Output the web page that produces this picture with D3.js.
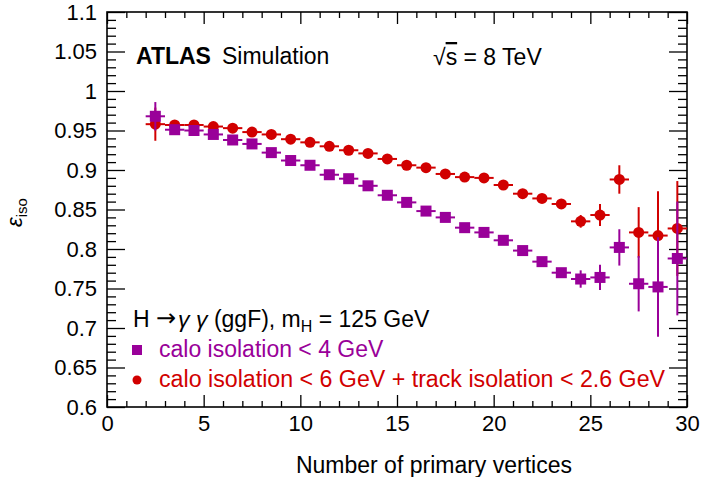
<!DOCTYPE html>
<html>
<head>
<meta charset="utf-8">
<script src="https://cdn.jsdelivr.net/npm/d3@7"></script>
<style>
  body { margin: 0; background: #fff; }
  text { font-family: "Liberation Sans", Arial, sans-serif; }
</style>
</head>
<body>
<div id="chart"></div>
<script>
// bin centres (number of primary vertices)
const nvtx = [2.5, 3.5, 4.5, 5.5, 6.5, 7.5, 8.5, 9.5, 10.5, 11.5, 12.5, 13.5, 14.5, 15.5,
              16.5, 17.5, 18.5, 19.5, 20.5, 21.5, 22.5, 23.5, 24.5, 25.5, 26.5, 27.5, 28.5, 29.5];

// calo isolation < 4 GeV (purple squares)
const caloEff = [0.968, 0.951, 0.950, 0.945, 0.938, 0.933, 0.922, 0.912, 0.906, 0.894, 0.889, 0.880, 0.868, 0.859,
                 0.848, 0.840, 0.827, 0.821, 0.811, 0.798, 0.784, 0.770, 0.762, 0.764, 0.802, 0.756, 0.752, 0.788];
const caloErr = [0.018, 0.005, 0.004, 0.003, 0.003, 0.003, 0.003, 0.003, 0.003, 0.003, 0.003, 0.003, 0.003, 0.003,
                 0.003, 0.003, 0.003, 0.004, 0.004, 0.004, 0.005, 0.006, 0.011, 0.016, 0.023, 0.035, 0.063, 0.072];

// calo isolation < 6 GeV + track isolation < 2.6 GeV (red circles)
const trackEff = [0.958, 0.957, 0.957, 0.955, 0.953, 0.948, 0.945, 0.939, 0.935, 0.930, 0.925, 0.921, 0.914, 0.906,
                  0.903, 0.895, 0.891, 0.890, 0.881, 0.870, 0.864, 0.857, 0.835, 0.843, 0.888, 0.821, 0.817, 0.826];
const trackErr = [0.021, 0.004, 0.003, 0.003, 0.003, 0.003, 0.003, 0.003, 0.003, 0.003, 0.003, 0.003, 0.003, 0.003,
                  0.003, 0.003, 0.004, 0.004, 0.004, 0.004, 0.005, 0.006, 0.008, 0.014, 0.018, 0.032, 0.056, 0.060];

const binHalfWidth = 0.5;

const xTicks = [0, 5, 10, 15, 20, 25, 30];
const yTicks = [0.6, 0.65, 0.7, 0.75, 0.8, 0.85, 0.9, 0.95, 1, 1.05, 1.1];

const purple = '#990099';
const red = '#d10000';

let dimensions = {
    width: 708,
    height: 477,
    margins: { top: 12, bottom: 70, left: 107, right: 21 }
};
const plotW = dimensions.width - dimensions.margins.left - dimensions.margins.right;
const plotH = dimensions.height - dimensions.margins.top - dimensions.margins.bottom;

const svg = d3.select('#chart').append('svg')
    .attr('width', dimensions.width)
    .attr('height', dimensions.height);

const ctr = svg.append('g')
    .attr('transform', `translate(${dimensions.margins.left}, ${dimensions.margins.top})`);

const xScale = d3.scaleLinear().domain([0, 30]).range([0, plotW]);
const yScale = d3.scaleLinear().domain([0.6, 1.1]).range([plotH, 0]);

// minor ticks
const xMinor = d3.range(0, 31, 1).filter(v => v % 5 !== 0);
const yMinor = d3.range(60, 111, 1).filter(v => v % 5 !== 0).map(v => v / 100);

function styleAxis(g) {
    g.select('.domain').remove();
    g.selectAll('.tick line').attr('stroke', '#000').attr('stroke-width', 1.3);
    g.selectAll('text').attr('fill', '#000').style('font-size', '22px');
}

// bottom
ctr.append('g').attr('transform', `translate(0, ${plotH})`)
    .call(d3.axisBottom(xScale).tickValues(xTicks).tickSize(-12).tickPadding(8).tickFormat(d => d))
    .call(styleAxis);
ctr.append('g').attr('transform', `translate(0, ${plotH})`)
    .call(d3.axisBottom(xScale).tickValues(xMinor).tickSize(-6).tickFormat(''))
    .call(styleAxis);
// top
ctr.append('g')
    .call(d3.axisTop(xScale).tickValues(xTicks).tickSize(-12).tickFormat(''))
    .call(styleAxis);
ctr.append('g')
    .call(d3.axisTop(xScale).tickValues(xMinor).tickSize(-6).tickFormat(''))
    .call(styleAxis);
// left
ctr.append('g')
    .call(d3.axisLeft(yScale).tickValues(yTicks).tickSize(-18).tickPadding(10).tickFormat(d => d))
    .call(styleAxis);
ctr.append('g')
    .call(d3.axisLeft(yScale).tickValues(yMinor).tickSize(-9).tickFormat(''))
    .call(styleAxis);
// right
ctr.append('g').attr('transform', `translate(${plotW}, 0)`)
    .call(d3.axisRight(yScale).tickValues(yTicks).tickSize(-18).tickFormat(''))
    .call(styleAxis);
ctr.append('g').attr('transform', `translate(${plotW}, 0)`)
    .call(d3.axisRight(yScale).tickValues(yMinor).tickSize(-9).tickFormat(''))
    .call(styleAxis);

// frame
ctr.append('rect')
    .attr('width', plotW).attr('height', plotH)
    .attr('fill', 'none').attr('stroke', '#000').attr('stroke-width', 1.6);

// series
function drawSeries(eff, err, color, shape) {
    const data = nvtx.map((x, i) => ({ x: x, y: eff[i], e: err[i] }));
    const grp = ctr.append('g');

    grp.selectAll('line.ex')
        .data(data)
        .join('line')
        .attr('x1', d => xScale(d.x - binHalfWidth))
        .attr('x2', d => xScale(d.x + binHalfWidth))
        .attr('y1', d => yScale(d.y))
        .attr('y2', d => yScale(d.y))
        .attr('stroke', color).attr('stroke-width', 2);

    grp.selectAll('line.ey')
        .data(data)
        .join('line')
        .attr('x1', d => xScale(d.x))
        .attr('x2', d => xScale(d.x))
        .attr('y1', d => yScale(d.y - d.e))
        .attr('y2', d => yScale(d.y + d.e))
        .attr('stroke', color).attr('stroke-width', 2);

    if (shape === 'square') {
        grp.selectAll('rect')
            .data(data)
            .join('rect')
            .attr('x', d => xScale(d.x) - 5.5)
            .attr('y', d => yScale(d.y) - 5.5)
            .attr('width', 11).attr('height', 11)
            .attr('fill', color);
    } else {
        grp.selectAll('circle')
            .data(data)
            .join('circle')
            .attr('cx', d => xScale(d.x))
            .attr('cy', d => yScale(d.y))
            .attr('r', 5.5)
            .attr('fill', color);
    }
}

drawSeries(trackEff, trackErr, red, 'circle');
drawSeries(caloEff, caloErr, purple, 'square');

// labels
svg.append('text')
    .attr('x', 136).attr('y', 64)
    .style('font-size', '23px').style('font-weight', 'bold')
    .text('ATLAS');
svg.append('text')
    .attr('x', 222).attr('y', 64)
    .style('font-size', '23px')
    .text('Simulation');

const sq = svg.append('text')
    .attr('x', 433).attr('y', 65)
    .style('font-size', '23px');
sq.append('tspan').text('√');
sq.append('tspan').style('text-decoration', 'overline').text('s');
sq.append('tspan').text(' = 8 TeV');

const proc = svg.append('text')
    .attr('x', 133).attr('y', 327)
    .style('font-size', '23px');
proc.append('tspan').text('H ');
proc.append('tspan').attr('dy', -1).style('font-family', '"DejaVu Sans"').style('font-size', '24px').text('→');
proc.append('tspan').attr('dy', 1).attr('dx', 2).style('font-style', 'italic').text('γ γ');
proc.append('tspan').text(' (ggF), m');
proc.append('tspan').attr('dy', 5).style('font-size', '16px').text('H');
proc.append('tspan').attr('dy', -5).text(' = 125 GeV');

// legend
svg.append('rect')
    .attr('x', 132).attr('y', 345).attr('width', 10).attr('height', 10)
    .attr('fill', purple);
svg.append('text')
    .attr('x', 159).attr('y', 357)
    .attr('fill', purple)
    .style('font-size', '23px')
    .text('calo isolation < 4 GeV');

svg.append('circle')
    .attr('cx', 137).attr('cy', 380).attr('r', 4.5)
    .attr('fill', red);
svg.append('text')
    .attr('x', 159).attr('y', 387)
    .attr('fill', red)
    .style('font-size', '23px')
    .attr('textLength', 506).attr('lengthAdjust', 'spacingAndGlyphs')
    .text('calo isolation < 6 GeV + track isolation < 2.6 GeV');

// axis titles
svg.append('text')
    .attr('x', 572).attr('y', 473)
    .attr('text-anchor', 'end')
    .style('font-size', '23px')
    .text('Number of primary vertices');

const yTitle = svg.append('text')
    .attr('transform', 'translate(22, 227) rotate(-90)')
    .attr('text-anchor', 'start')
    .style('font-size', '22px');
yTitle.append('tspan').style('font-style', 'italic').text('ε');
yTitle.append('tspan').attr('dy', 5).style('font-size', '15px').text('iso');
</script>
</body>
</html>
